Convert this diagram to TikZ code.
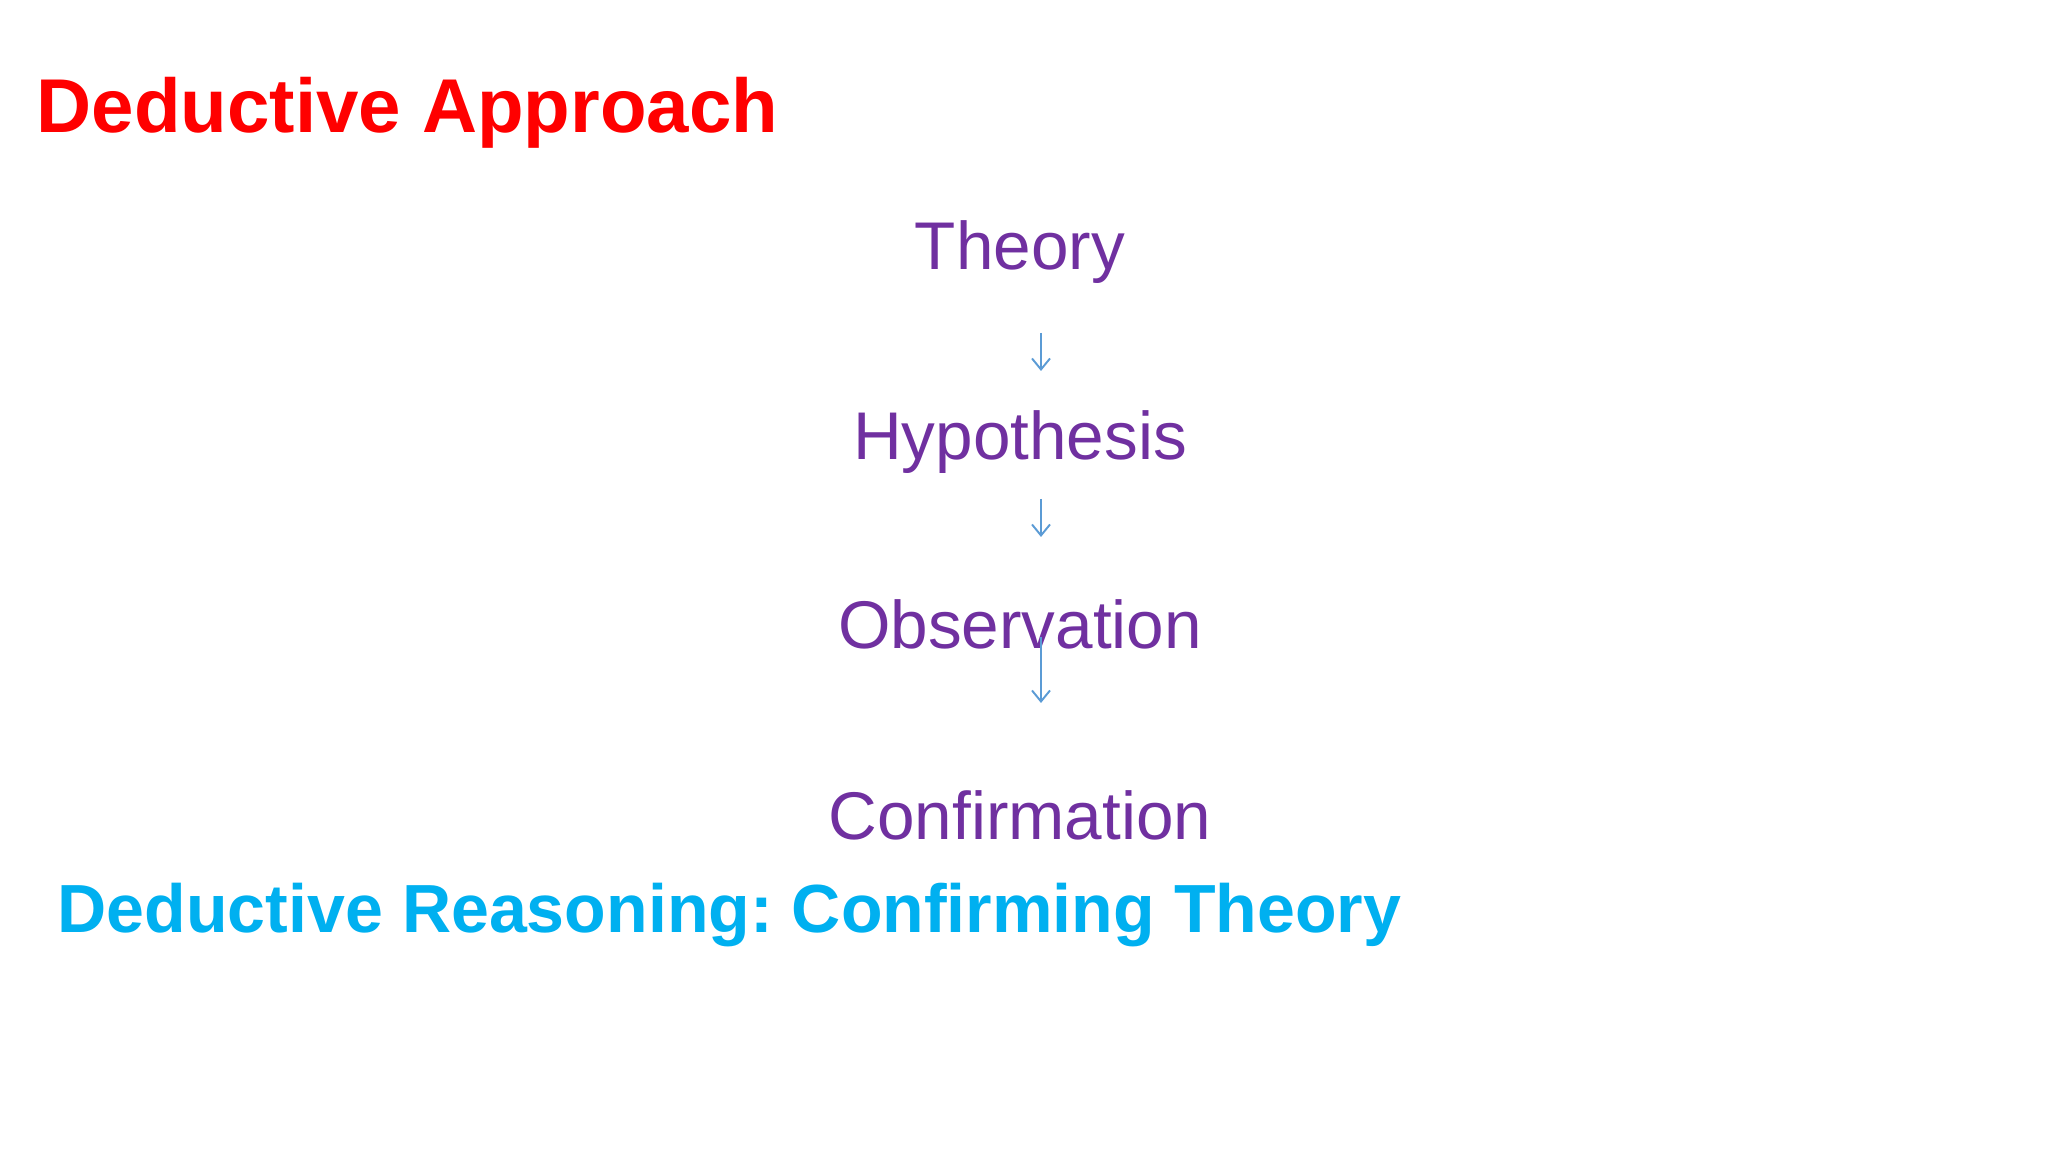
\documentclass[tikz,border=0pt]{standalone}
\usepackage{fontspec}
\setmainfont{Liberation Sans}
\usepackage{xcolor}
\usetikzlibrary{arrows.meta}
\definecolor{stagepurple}{HTML}{7030A0}
\definecolor{arrowblue}{HTML}{5B9BD5}
\definecolor{footblue}{HTML}{00B0F0}
\frenchspacing
\tikzset{
  stage/.style={anchor=base,inner sep=0pt,text=stagepurple,font=\fontsize{19.2}{23}\selectfont},
  flow/.style={arrowblue,line width=0.55pt,-{Straight Barb[length=1.1mm,width=1.8mm]}}
}

\begin{document}
\begin{tikzpicture}
        \useasboundingbox (0,0) rectangle (20.48,11.52);
        \node[anchor=base west,inner sep=0pt,text=red,font=\fontsize{21.7}{25}\selectfont\bfseries] (title) at (0.36,10.19) {Deductive Approach};
        \foreach \name/\y/\txt in {theory/8.82/Theory,hypo/6.92/Hypothesis,obs/5.03/Observation,conf/3.12/Confirmation}
        \node[stage] (\name) at (10.20,\y) {\txt};
        \foreach \i/\a/\b in {1/8.19/7.81,2/6.53/6.15,3/5.15/4.49}
        {
        \coordinate (s\i) at (10.41,\a);
        \coordinate (e\i) at (10.41,\b);
        \draw[flow] (s\i) -- (e\i);
        }
        \node[anchor=base west,inner sep=0pt,text=footblue,font=\fontsize{19.38}{23}\selectfont\bfseries] (foot) at (0.57,2.19) {Deductive Reasoning: Confirming Theory};
        \end{tikzpicture}
\end{document}
